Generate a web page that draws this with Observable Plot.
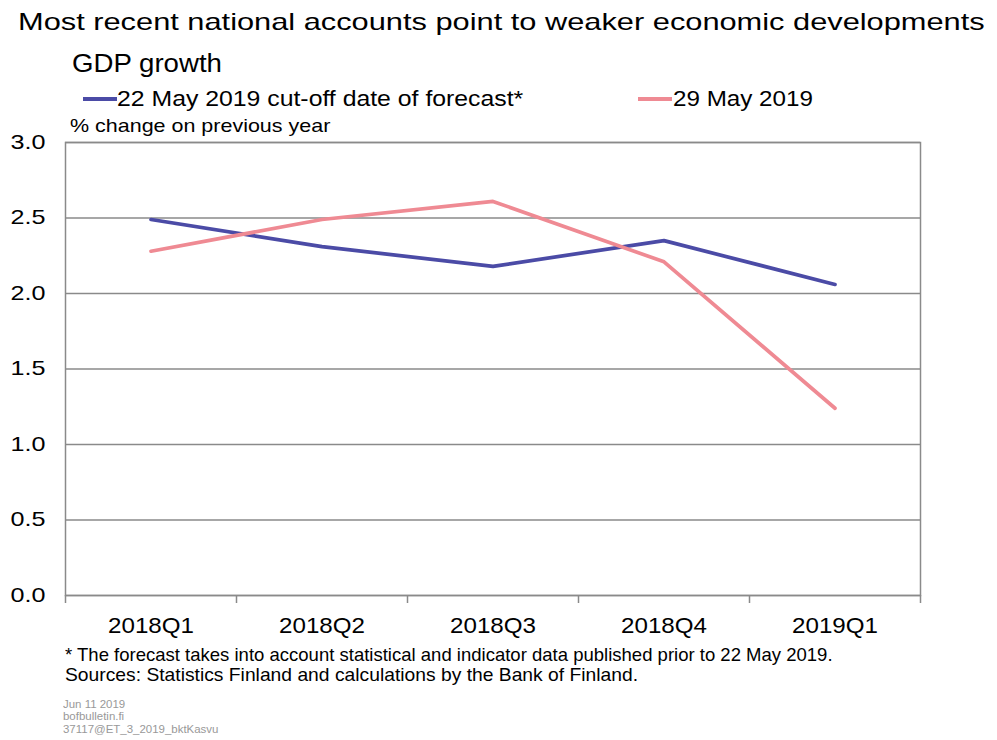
<!DOCTYPE html>
<html>
<head>
<meta charset="utf-8">
<script src="https://cdn.jsdelivr.net/npm/d3@7"></script>
<script src="https://cdn.jsdelivr.net/npm/@observablehq/plot@0.6"></script>
<style>
  html, body { margin: 0; padding: 0; background: #fff; }
  #wrap { position: relative; width: 997px; height: 740px; overflow: hidden; font-family: "Liberation Sans", Arial, sans-serif; color: #000; }
  #wrap > svg { position: absolute; left: 0; top: 0; }
  .t { position: absolute; white-space: nowrap; line-height: 1; display: inline-block; transform-origin: 0 50%; }
  .sw { position: absolute; height: 4px; }
</style>
</head>
<body>
<div id="wrap">
  <div class="t" data-w="967" style="left:18px; top:9.6px; font-size:24px;">Most recent national accounts point to weaker economic developments</div>
  <div class="t" data-w="150" style="left:72px; top:51px; font-size:25.6px;">GDP growth</div>
  <div class="sw" style="left:83px; width:34px; top:96.5px; background:#4b4ba6"></div>
  <div class="t" data-w="406" style="left:117px; top:87.8px; font-size:22.3px;">22 May 2019 cut-off date of forecast*</div>
  <div class="sw" style="left:638px; width:34px; top:96.5px; background:#ef8a93"></div>
  <div class="t" data-w="140" style="left:673px; top:87.8px; font-size:22.3px;">29 May 2019</div>
  <div class="t" data-w="260" style="left:70px; top:115.7px; font-size:19px;">% change on previous year</div>
  <div class="t" data-w="768" style="left:65px; top:645.2px; font-size:19px;">* The forecast takes into account statistical and indicator data published prior to 22 May 2019.</div>
  <div class="t" data-w="573" style="left:65px; top:665.2px; font-size:19px;">Sources: Statistics Finland and calculations by the Bank of Finland.</div>
  <div class="t" data-s="1.1" style="left:63px; top:699px; font-size:10.5px; color:#999;">Jun 11 2019</div>
  <div class="t" data-s="1.1" style="left:63px; top:711px; font-size:10.5px; color:#999;">bofbulletin.fi</div>
  <div class="t" data-w="155" style="left:63px; top:724px; font-size:10.5px; color:#999;">37117@ET_3_2019_bktKasvu</div>
</div>
<script>
const quarters = ["2018Q1", "2018Q2", "2018Q3", "2018Q4", "2019Q1"];
const forecast22May = [2.49, 2.31, 2.18, 2.35, 2.06];
const release29May = [2.28, 2.49, 2.61, 2.21, 1.24];
const yTicks = [0, 0.5, 1.0, 1.5, 2.0, 2.5, 3.0];
const seriesNames = ["22 May 2019 cut-off date of forecast*", "29 May 2019"];
const seriesColors = ["#4b4ba6", "#ef8a93"];

const rows = [];
quarters.forEach((q, i) => {
  rows.push({i, q, v: forecast22May[i], s: seriesNames[0]});
  rows.push({i, q, v: release29May[i], s: seriesNames[1]});
});
const boundaries = d3.range(-0.5, quarters.length, 1);

const chart = Plot.plot({
  width: 997,
  height: 740,
  marginLeft: 65,
  marginRight: 77,
  marginTop: 142,
  marginBottom: 145,
  style: {fontFamily: "Liberation Sans, Arial, sans-serif", background: "transparent"},
  x: {domain: [-0.5, quarters.length - 0.5]},
  y: {domain: [0, 3]},
  color: {domain: seriesNames, range: seriesColors},
  marks: [
    Plot.gridY(yTicks, {stroke: "#8a8a8a", strokeOpacity: 1, strokeWidth: 1.5}),
    Plot.frame({stroke: "#8a8a8a", strokeWidth: 1.5}),
    Plot.axisY(yTicks, {tickSize: 0, tickPadding: 20, fontSize: 20, tickFormat: d3.format(".1f"), label: null, fill: "#000"}),
    Plot.axisX(boundaries, {tickSize: 8, tickFormat: () => "", label: null, stroke: "#8a8a8a", strokeWidth: 1.5}),
    Plot.axisX(d3.range(quarters.length), {tickSize: 0, tickPadding: 22, fontSize: 22.5, tickFormat: i => quarters[i], label: null, fill: "#000"}),
    Plot.line(rows, {x: "i", y: "v", z: "s", stroke: "s", strokeWidth: 3.7, strokeLinejoin: "miter"})
  ]
});
const wrap = document.getElementById("wrap");
wrap.prepend(chart);

// horizontal stretch helpers to match the reference's wide lettering
function stretchSvgText(el, s) {
  const x = +el.getAttribute("x") || 0, y = +el.getAttribute("y") || 0;
  const t = el.getAttribute("transform") || "";
  el.setAttribute("transform", `${t} translate(${x},${y}) scale(${s},1) translate(${-x},${-y})`);
}
function fitGroup(selector, sample, targetWidth) {
  const texts = Array.from(chart.querySelectorAll(selector)).filter(t => t.textContent.trim() !== "");
  const ref = texts.find(t => t.textContent === sample) || texts[0];
  if (!ref) return;
  const w = ref.getComputedTextLength();
  const s = w > 0 ? targetWidth / w : 1;
  texts.forEach(t => stretchSvgText(t, s));
}
fitGroup('g[aria-label="y-axis tick label"] text', "3.0", 35);
fitGroup('g[aria-label="x-axis tick label"] text', "2018Q1", 86);

let smallScale = 1;
document.querySelectorAll(".t[data-w]").forEach(el => {
  const s = +el.dataset.w / el.offsetWidth;
  el.style.transform = `scaleX(${s})`;
  if (el.style.fontSize === "10.5px") smallScale = s;
});
document.querySelectorAll(".t[data-s]").forEach(el => {
  el.style.transform = `scaleX(${smallScale})`;
});
</script>
</body>
</html>
